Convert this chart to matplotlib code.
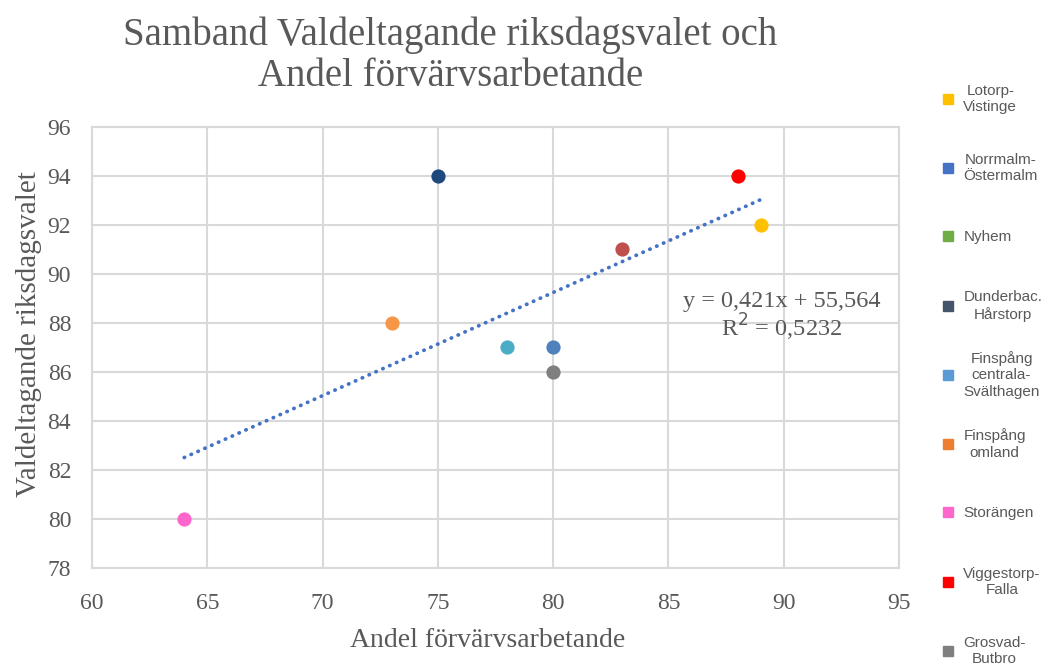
import matplotlib.pyplot as plt
from matplotlib.lines import Line2D
import numpy as np

# omraden och varden
names = ["Lotorp-\nVistinge", "Norrmalm-\nÖstermalm", "Nyhem", "Dunderbac.\nHårstorp",
         "Finspång\ncentrala-\nSvälthagen", "Finspång\nomland", "Storängen",
         "Viggestorp-\nFalla", "Grosvad-\nButbro", "Övrigt"]
arbete = [89, 80, np.nan, 75, 78, 73, 64, 88, 80, 83]
valdelt = [92, 87, np.nan, 94, 87, 88, 80, 94, 86, 91]
point_colors = ["#FFC000", "#4F81BD", "#70AD47", "#1F497D", "#4BACC6", "#F79646",
                "#FF66CC", "#FF0000", "#7F7F7F", "#C0504D"]
legend_colors = ["#FFC000", "#4472C4", "#70AD47", "#44546A", "#5B9BD5", "#ED7D31",
                 "#FF66CC", "#FF0000", "#7F7F7F"]

serif = "Liberation Serif"
grey = "#595959"

fig = plt.figure(figsize=(10.42, 6.68), dpi=100)
ax = fig.add_axes([0.0883, 0.1497, 0.7745, 0.6602])

x = np.array(arbete, dtype=float)
y = np.array(valdelt, dtype=float)
for xi, yi, c in zip(x, y, point_colors):
    if not np.isnan(xi):
        ax.scatter(xi, yi, s=105, color=c, zorder=3, linewidths=0)

# trendlinje
ok = ~np.isnan(x)
k, m = np.polyfit(x[ok], y[ok], 1)
r2 = np.corrcoef(x[ok], y[ok])[0, 1] ** 2
xs = np.array([x[ok].min(), x[ok].max()])
ax.plot(xs, k * xs + m, color="#4472C4", lw=2.7, linestyle=(0, (0.1, 1.9)),
        dash_capstyle="round", zorder=2)
eq = f"y = {k:.3f}x + {m:.3f}\nR$^2$ = {r2:.4f}".replace(".", ",")
ax.text(89.9, 88.25, eq, ha="center", va="center", fontsize=17.5, color=grey,
        family=serif, linespacing=1.0)

ax.set_xlim(60, 95)
ax.set_ylim(78, 96)
ax.set_xticks(range(60, 96, 5))
ax.set_yticks(range(78, 97, 2))
ax.grid(True, color="#D9D9D9", lw=1.5)
ax.set_axisbelow(True)
for s in ax.spines.values():
    s.set_color("#D9D9D9")
    s.set_linewidth(1.5)
ax.tick_params(length=0, labelsize=17, labelcolor=grey)
ax.tick_params(axis="x", pad=18)
ax.tick_params(axis="y", pad=15)
for lab in ax.get_xticklabels() + ax.get_yticklabels():
    lab.set_family(serif)

ax.set_xlabel("Andel förvärvsarbetande", fontsize=20, color=grey, family=serif)
ax.set_ylabel("Valdeltagande riksdagsvalet", fontsize=21, color=grey, family=serif)
ax.xaxis.set_label_coords(0.49, -0.135)
ax.yaxis.set_label_coords(-0.062, 0.53)

fig.text(0.432, 0.917, "Samband Valdeltagande riksdagsvalet och\nAndel förvärvsarbetande",
         ha="center", va="center", fontsize=28, color=grey, family=serif, linespacing=1.15)

# forklaring, en rad i taget med jamnt avstand
for i, (name, c) in enumerate(zip(names[:9], legend_colors)):
    h = Line2D([], [], marker="s", linestyle="none", markersize=7, color=c)
    leg = fig.legend([h], [name], loc="center left",
                     bbox_to_anchor=(0.904, 1 - (99 + 69 * i) / 668),
                     frameon=False, handlelength=0.8, handletextpad=0.6,
                     borderpad=0, borderaxespad=0, prop={"family": "Liberation Sans", "size": 11})
    for t in leg.get_texts():
        t.set_color(grey)
        t.set_multialignment("center")

fig.savefig("out.png", dpi=100)
